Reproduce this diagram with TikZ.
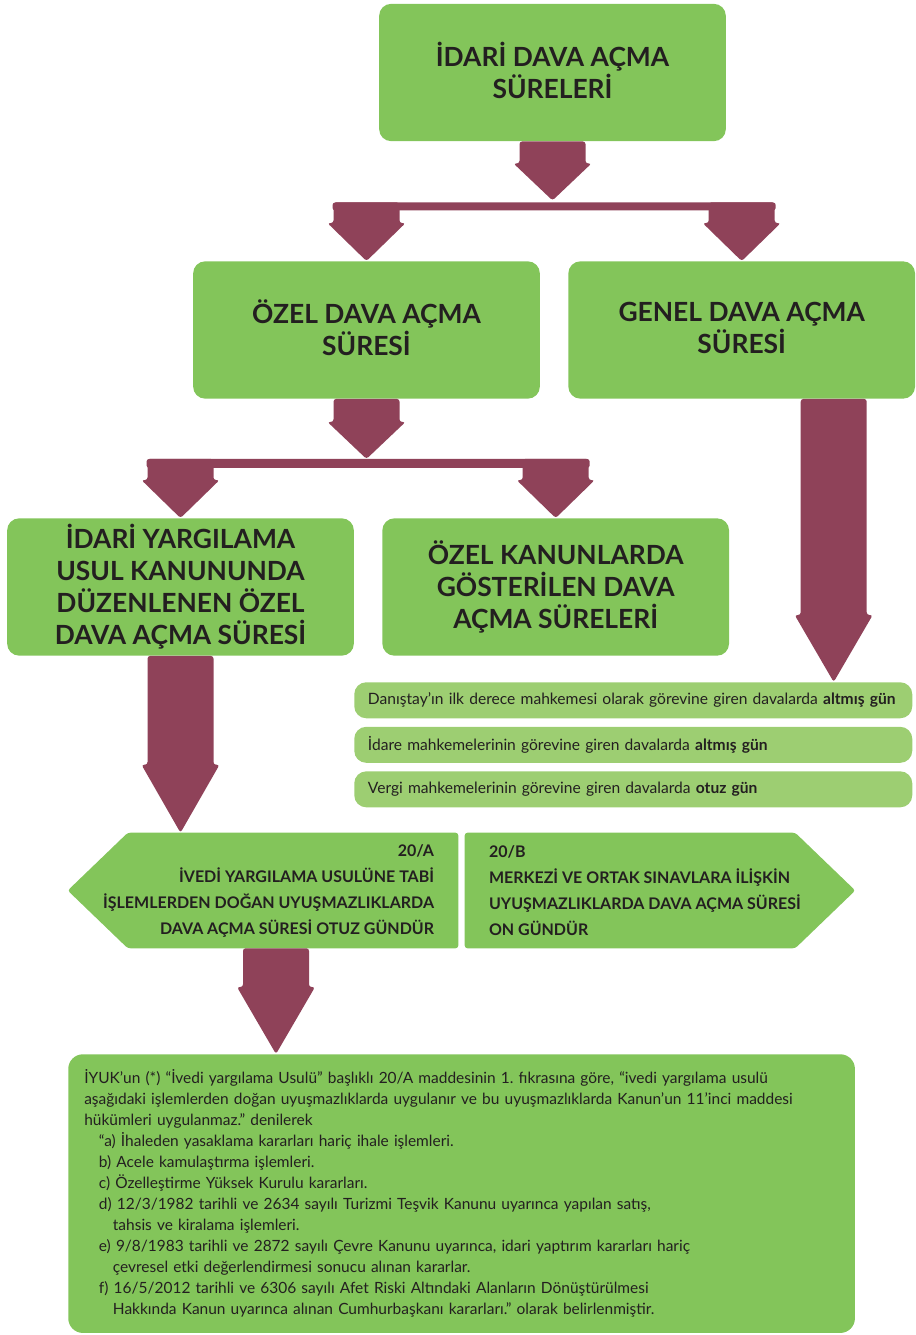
\documentclass[tikz,border=0pt]{standalone}
\usepackage{fontspec}
\setmainfont{Lato}
\usetikzlibrary{positioning,calc}
\definecolor{boxgreen}{HTML}{83C55A}
\definecolor{lightgreen}{HTML}{9DCE72}
\definecolor{arrowred}{HTML}{8F4259}
\definecolor{ink}{HTML}{231F20}
\tikzset{
  nd/.style={rectangle, rounded corners=9pt, minimum width=260pt, minimum height=103pt, text centered, align=center, fill=boxgreen, text=ink, inner sep=0pt, font=\bfseries\fontsize{19.8}{24}\selectfont,
    execute at begin node={\rule{0pt}{34pt}}, execute at end node={\rule[-3pt]{0pt}{0pt}}},
  sm/.style={rectangle, rounded corners=9pt, minimum height=27pt, text width=398pt, inner xsep=10.25pt, inner ysep=0pt, align=left, fill=lightgreen, text=ink, font=\fontsize{11.7}{12}\selectfont},
  pf/.style={rectangle, minimum width=292.5pt, minimum height=86.25pt, inner sep=0pt},
  pt/.style={text=ink, inner sep=0pt, font=\bfseries\fontsize{12}{19.5}\selectfont},
  nt/.style={rectangle, rounded corners=11pt, minimum width=590pt, minimum height=209pt, text width=566pt, inner xsep=12pt, align=left, fill=boxgreen, text=ink, font=\fontsize{11.6}{15.75}\selectfont},
  blk/.style={fill=arrowred, rounded corners=2pt},
  node distance=6pt
}
% block arrow: #1 start (above #2), #2 tip, #3 head length
\newcommand{\blockarrow}[3]{%
  \fill[blk] ($(#1)+(-33,0)$) -- ($(#1)+(33,0)$) -- ($(#2)+(33,-#3)$) -- ($(#2)+(39,-#3)$)
    -- (#2) -- ($(#2)+(-39,-#3)$) -- ($(#2)+(-33,-#3)$) -- cycle;}
\frenchspacing

\begin{document}
\begin{tikzpicture}[x=0.75pt, y=-0.75pt]
	\useasboundingbox (0,0) rectangle (916,1335);

	\node[nd] (top) at (552.5,72.5) {İDARİ DAVA AÇMA\\SÜRELERİ};
	\node[nd] (ozel) at (366.5,330) {ÖZEL DAVA AÇMA\\SÜRESİ};
	\node[nd, right=21pt of ozel] (genel) {GENEL DAVA AÇMA\\SÜRESİ};
	\node[nd] (idari) at (180.5,587) {İDARİ YARGILAMA\\USUL KANUNUNDA\\DÜZENLENEN ÖZEL\\DAVA AÇMA SÜRESİ};
	\node[nd, right=21pt of idari] (ozelkan) {ÖZEL KANUNLARDA\\GÖSTERİLEN DAVA\\AÇMA SÜRELERİ};

	\node[sm, anchor=north west] (s1) at (354,682) {Danıştay’ın ilk derece mahkemesi olarak görevine giren davalarda \textbf{altmış gün}};
	\node[sm, below=of s1] (s2) {İdare mahkemelerinin görevine giren davalarda \textbf{altmış gün}};
	\node[sm, below=of s2] (s3) {Vergi mahkemelerinin görevine giren davalarda \textbf{otuz gün}};

	% 20/A and 20/B
	\node[pf] (p20a) at (263,890.5) {};
	\fill[boxgreen, rounded corners=2pt] (p20a.north east) -- ($(p20a.north west)+(60,0)$) -- (p20a.west) -- ($(p20a.south west)+(60,0)$) -- (p20a.south east) -- cycle;
	\node[pt, anchor=east, align=right] (t20a) at ($(p20a.east)+(-24,0)$) {20/A\\İVEDİ YARGILAMA USULÜNE TABİ\\İŞLEMLERDEN DOĞAN UYUŞMAZLIKLARDA\\DAVA AÇMA SÜRESİ OTUZ GÜNDÜR};
	\node[pf] (p20b) at (660,890.5) {};
	\fill[boxgreen, rounded corners=2pt] (p20b.north west) -- ($(p20b.north east)+(-60,0)$) -- (p20b.east) -- ($(p20b.south east)+(-60,0)$) -- (p20b.south west) -- cycle;
	\node[pt, anchor=west, align=left] (t20b) at ($(p20b.west)+(24,0)$) {20/B\\MERKEZİ VE ORTAK SINAVLARA İLİŞKİN\\UYUŞMAZLIKLARDA DAVA AÇMA SÜRESİ\\ON GÜNDÜR};

	\node[nt, anchor=north west] (note) at (68,1054) {İYUK’un (*) “İvedi yargılama Usulü” başlıklı 20/A maddesinin 1. fıkrasına göre, “ivedi yargılama usulü\\
aşağıdaki işlemlerden doğan uyuşmazlıklarda uygulanır ve bu uyuşmazlıklarda Kanun’un 11’inci maddesi\\
hükümleri uygulanmaz.” denilerek\\
\hspace*{11pt}“a) İhaleden yasaklama kararları hariç ihale işlemleri.\\
\hspace*{11pt}b) Acele kamulaştırma işlemleri.\\
\hspace*{11pt}c) Özelleştirme Yüksek Kurulu kararları.\\
\hspace*{11pt}d) 12/3/1982 tarihli ve 2634 sayılı Turizmi Teşvik Kanunu uyarınca yapılan satış,\\
\hspace*{21.5pt}tahsis ve kiralama işlemleri.\\
\hspace*{11pt}e) 9/8/1983 tarihli ve 2872 sayılı Çevre Kanunu uyarınca, idari yaptırım kararları hariç\\
\hspace*{21.5pt}çevresel etki değerlendirmesi sonucu alınan kararlar.\\
\hspace*{11pt}f) 16/5/2012 tarihli ve 6306 sayılı Afet Riski Altındaki Alanların Dönüştürülmesi\\
\hspace*{21.5pt}Hakkında Kanun uyarınca alınan Cumhurbaşkanı kararları.” olarak belirlenmiştir.};

	% arrows
	\coordinate (a1) at ($(top.south)+(0,59)$);
	\coordinate (j1) at ($(top.south)+(0,61)$);
	\blockarrow{top.south}{a1}{37}
	\fill[blk] ($(j1 -| ozel.north)+(-34,0)$) rectangle ($(j1 -| genel.north)+(34,8)$);
	\coordinate (j1l) at (j1 -| ozel.north);
	\coordinate (j1r) at (j1 -| genel.north);
	\blockarrow{j1l}{ozel.north}{38}
	\blockarrow{j1r}{genel.north}{38}

	\coordinate (j2) at ($(ozel.south)+(0,60)$);
	\blockarrow{ozel.south}{j2}{37}
	\fill[blk] ($(j2 -| idari.north)+(-34,0)$) rectangle ($(j2 -| ozelkan.north)+(34,9)$);
	\coordinate (j2l) at (j2 -| idari.north);
	\coordinate (j2r) at (j2 -| ozelkan.north);
	\blockarrow{j2l}{idari.north}{38}
	\blockarrow{j2r}{ozelkan.north}{38}

	\coordinate (g1) at ($(genel.south)+(92,0)$);
	\coordinate (g2) at (g1 |- s1.north);
	\blockarrow{g1}{g2}{67}

	\coordinate (i2) at (idari.south |- p20a.north);
	\blockarrow{idari.south}{i2}{68}

	\coordinate (b1) at ($(p20a.south)+(13,0)$);
	\coordinate (b2) at (b1 |- note.north);
	\blockarrow{b1}{b2}{67}
\end{tikzpicture}
\end{document}
